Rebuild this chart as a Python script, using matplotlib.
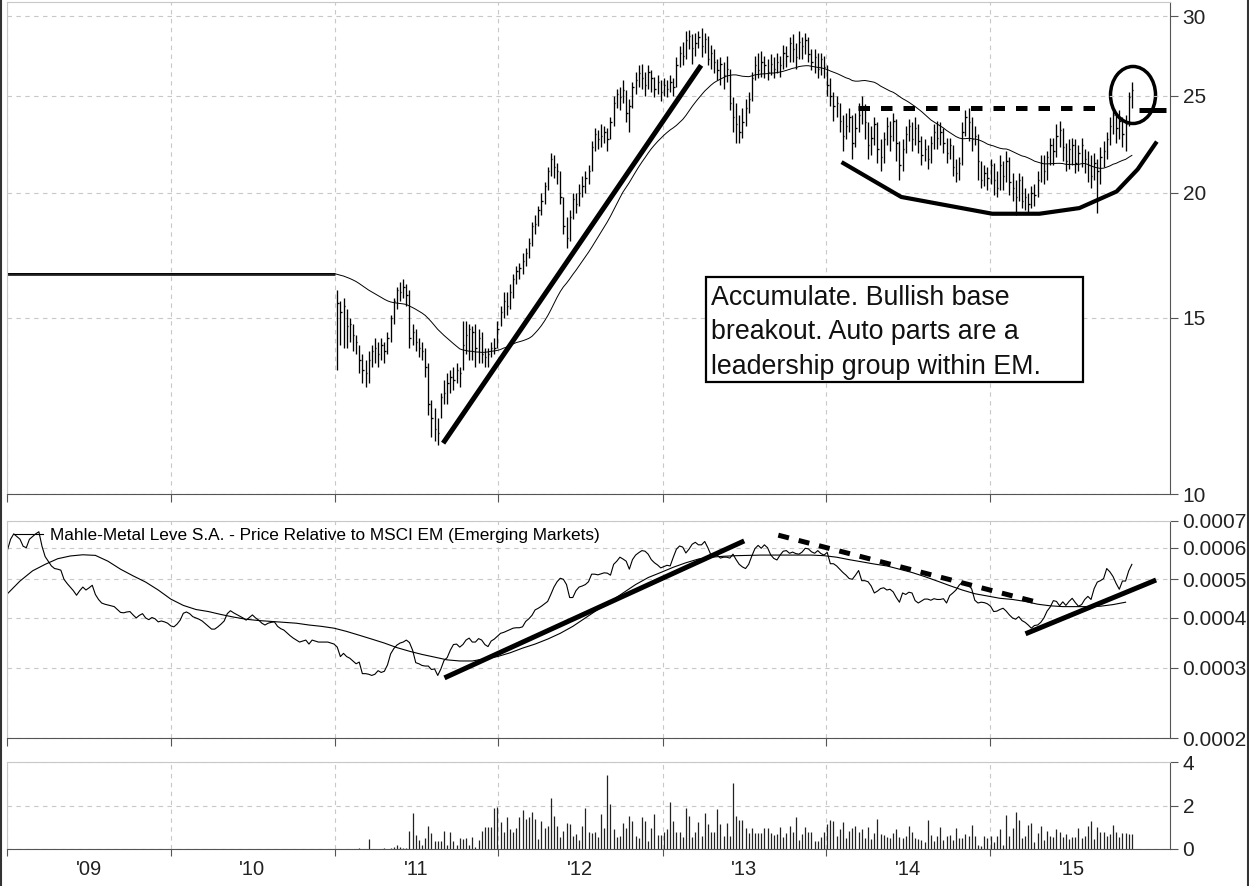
import numpy as np
import pandas as pd
import matplotlib
matplotlib.use('Agg')
import matplotlib.pyplot as plt
import matplotlib.dates as mdates
from matplotlib.patches import Ellipse, Rectangle
from matplotlib.lines import Line2D
from matplotlib.ticker import NullLocator, FixedLocator, NullFormatter

plt.rcParams['font.family'] = ['Liberation Sans', 'DejaVu Sans']

### DATA ---
# weekly grid starting first Friday of 2009
n_weeks = 359
listing_week = 105          # first weekly bar of the stock
pre_listing_price = 16.6    # flat placeholder before listing
ma_weeks = 40

price_high = [
    16.0, 15.6, 15.7, 15.3, 15.0, 14.8, 14.4, 14.1, 13.8, 13.6,
    13.9, 14.1, 14.3, 14.2, 14.3, 14.2, 14.5, 15.1, 15.7, 16.1,
    16.3, 16.4, 16.2, 16.0, 14.8, 14.6, 14.3, 14.2, 14.0, 13.5,
    12.4, 12.2, 11.9, 12.6, 13.0, 13.2, 13.3, 13.4, 13.5, 13.4,
    14.9, 14.9, 14.8, 14.7, 14.8, 14.6, 14.5, 14.0, 14.0, 14.2,
    14.3, 14.9, 15.4, 15.9, 15.9, 16.2, 16.6, 16.9, 17.0, 17.4,
    17.6, 18.0, 18.7, 19.0, 19.4, 20.0, 20.5, 21.2, 21.9, 21.8,
    21.4, 21.0, 19.8, 18.9, 19.2, 20.0, 20.0, 20.4, 20.8, 21.0,
    21.3, 22.5, 23.2, 23.1, 23.4, 23.3, 23.2, 23.8, 25.0, 25.4,
    25.5, 25.9, 25.3, 24.8, 25.8, 26.4, 26.8, 26.9, 26.4, 26.8,
    26.5, 26.1, 26.2, 25.9, 26.0, 25.9, 26.2, 26.0, 27.3, 28.0,
    28.3, 29.0, 29.1, 28.8, 28.9, 29.0, 29.2, 28.9, 28.7, 28.1,
    27.8, 27.2, 27.3, 27.0, 27.4, 26.6, 24.9, 24.6, 23.9, 24.3,
    24.8, 25.2, 26.4, 27.4, 27.6, 27.7, 27.4, 27.2, 27.5, 27.3,
    27.6, 27.4, 28.1, 28.0, 28.6, 28.8, 28.2, 29.0, 28.6, 28.9,
    28.6, 27.8, 27.8, 27.6, 27.6, 27.4, 26.8, 26.0, 25.2, 25.0,
    24.6, 23.9, 24.0, 24.3, 23.9, 24.0, 24.6, 25.0, 24.5, 23.5,
    23.3, 23.8, 23.5, 22.6, 23.0, 23.8, 23.6, 24.0, 23.7, 22.5,
    22.6, 23.3, 23.7, 23.5, 23.8, 23.4, 22.8, 22.6, 22.3, 22.8,
    23.4, 23.6, 23.5, 23.2, 22.7, 22.7, 22.3, 21.6, 21.7, 23.5,
    24.2, 24.3, 23.8, 23.3, 22.9, 21.5, 21.3, 21.2, 21.6, 21.4,
    21.0, 21.8, 21.5, 22.0, 21.7, 20.9, 20.6, 20.9, 20.8, 20.2,
    20.0, 20.3, 20.4, 21.0, 21.8, 21.8, 22.0, 22.7, 22.7, 23.4,
    23.6, 23.2, 22.4, 22.6, 22.7, 22.6, 22.3, 22.7, 22.1, 22.0,
    21.8, 21.9, 21.6, 22.2, 22.5, 23.0, 23.8, 24.3, 24.0, 24.2,
    23.8, 23.9, 25.2, 25.8]

price_low = [
    13.3, 14.1, 14.0, 14.0, 14.2, 13.9, 13.8, 13.2, 12.9, 12.8,
    12.9, 13.4, 13.5, 13.4, 13.6, 13.5, 13.8, 14.2, 14.8, 15.3,
    15.6, 15.7, 15.4, 14.0, 14.1, 13.9, 13.7, 13.6, 13.1, 12.0,
    11.4, 11.3, 11.2, 11.9, 12.3, 12.3, 12.6, 12.7, 12.9, 12.8,
    13.3, 13.8, 13.6, 13.6, 13.4, 13.5, 13.5, 13.4, 13.4, 13.7,
    13.8, 14.0, 14.7, 15.0, 15.1, 15.3, 15.7, 16.2, 16.4, 16.6,
    16.9, 17.2, 17.7, 18.2, 18.5, 19.0, 19.5, 20.1, 20.8, 20.7,
    20.4, 19.5, 18.2, 17.6, 17.9, 18.8, 19.1, 19.4, 19.8, 20.0,
    20.4, 21.0, 22.0, 22.1, 22.2, 22.4, 22.0, 22.6, 23.3, 24.3,
    24.2, 24.6, 23.5, 23.0, 24.3, 25.1, 25.5, 25.4, 25.0, 25.4,
    25.2, 24.9, 25.1, 24.7, 25.0, 24.9, 25.2, 25.0, 25.5, 26.7,
    26.8, 27.2, 27.8, 26.9, 27.4, 27.9, 27.3, 27.6, 26.8, 26.6,
    26.3, 25.9, 25.6, 25.4, 25.8, 24.2, 23.0, 22.4, 22.4, 22.7,
    23.3, 24.0, 24.7, 25.9, 26.0, 26.1, 26.0, 25.9, 26.2, 26.0,
    26.3, 26.1, 26.6, 26.7, 27.0, 27.0, 26.6, 27.2, 27.2, 27.5,
    27.0, 26.5, 26.3, 26.0, 26.2, 26.0, 25.0, 24.4, 23.6, 23.8,
    23.0, 22.0, 22.6, 23.0, 21.6, 22.2, 23.0, 23.4, 22.6, 21.6,
    21.8, 22.3, 21.4, 21.0, 21.4, 22.3, 22.0, 22.5, 21.5, 20.6,
    21.0, 21.9, 22.5, 22.0, 22.3, 21.9, 21.3, 21.5, 21.1, 21.4,
    22.1, 22.1, 22.3, 21.9, 21.4, 21.6, 20.8, 20.5, 20.6, 21.3,
    22.8, 22.5, 22.0, 22.3, 20.6, 20.2, 20.3, 20.1, 20.4, 19.9,
    19.8, 20.1, 20.1, 20.5, 19.9, 19.6, 19.0, 19.6, 19.3, 19.2,
    19.1, 19.3, 19.4, 19.8, 20.5, 20.4, 20.6, 21.3, 21.3, 21.7,
    22.2, 21.5, 21.0, 21.1, 21.3, 20.9, 21.0, 21.2, 20.9, 20.5,
    20.2, 20.6, 19.1, 20.4, 21.2, 21.6, 22.3, 22.9, 22.4, 22.6,
    22.2, 22.0, 23.3, 24.3]

price_close = [
    15.5, 15.2, 15.4, 14.7, 14.8, 14.4, 14.2, 13.6, 13.3, 13.2,
    13.6, 13.9, 14.0, 13.8, 14.1, 13.9, 14.3, 15.0, 15.6, 16.0,
    15.9, 16.1, 15.8, 14.3, 14.5, 14.2, 14.0, 13.9, 13.4, 12.3,
    11.9, 11.6, 11.5, 12.5, 12.6, 12.9, 13.1, 13.0, 13.3, 13.2,
    14.1, 14.4, 14.6, 14.5, 14.0, 14.3, 13.8, 13.7, 13.8, 14.0,
    14.0, 14.6, 15.2, 15.6, 15.4, 15.9, 16.4, 16.7, 16.8, 17.1,
    17.4, 17.8, 18.5, 18.6, 19.2, 19.6, 20.3, 21.0, 21.6, 21.2,
    21.0, 19.8, 18.5, 18.0, 18.9, 19.7, 19.5, 20.0, 20.3, 20.7,
    21.0, 22.2, 22.9, 22.6, 22.8, 23.0, 22.6, 23.5, 24.6, 25.1,
    24.9, 25.3, 24.0, 24.4, 25.5, 25.9, 26.3, 26.0, 25.6, 26.4,
    26.0, 25.4, 25.8, 25.2, 25.6, 25.4, 25.8, 25.5, 26.8, 27.6,
    27.4, 28.4, 28.7, 27.9, 28.2, 28.6, 28.0, 28.5, 27.2, 27.6,
    27.0, 26.5, 26.9, 26.2, 26.6, 24.6, 23.8, 23.4, 23.0, 23.5,
    24.3, 24.8, 26.0, 26.8, 26.5, 27.0, 26.8, 26.4, 26.9, 26.6,
    27.0, 26.8, 27.6, 27.4, 28.2, 27.8, 27.3, 28.3, 28.0, 28.4,
    27.5, 27.0, 27.3, 26.6, 27.2, 26.7, 25.6, 25.0, 24.4, 24.6,
    23.6, 22.8, 23.3, 23.8, 22.4, 23.2, 23.9, 24.4, 23.5, 22.3,
    22.7, 23.4, 22.1, 21.7, 22.6, 23.3, 22.8, 23.6, 22.4, 21.3,
    22.1, 22.9, 23.3, 22.6, 23.2, 22.5, 21.8, 22.1, 21.6, 22.4,
    23.0, 22.7, 23.0, 22.4, 21.9, 22.3, 21.2, 20.9, 21.4, 23.0,
    23.8, 23.5, 22.6, 22.8, 21.5, 20.6, 20.9, 20.7, 21.3, 20.6,
    20.2, 21.3, 20.8, 21.5, 20.5, 20.2, 19.8, 20.6, 19.6, 19.8,
    19.5, 20.0, 19.9, 20.6, 21.4, 21.0, 21.7, 22.3, 22.0, 22.8,
    23.1, 22.2, 21.5, 22.1, 22.3, 21.4, 21.9, 22.3, 21.6, 21.3,
    20.8, 21.4, 21.0, 21.7, 22.0, 22.6, 23.3, 23.9, 23.2, 23.6,
    22.9, 23.4, 24.9, 25.3]

# weekly volume (millions), from listing week
volume = [
    0, 0, 0, 0, 0, 0, 0, 0.03, 0, 0,
    0.45, 0, 0, 0, 0, 0.05, 0.02, 0.05, 0.1, 0.2,
    0.1, 0.05, 0.05, 0.85, 1.65, 0.65, 0.4, 0.2, 0.5, 1.05,
    0.75, 0.35, 0.35, 0.35, 0.85, 0.2, 0.8, 0.35, 0.2, 0.5,
    0.45, 0.5, 0.2, 0.55, 0.1, 0.4, 0.85, 1.0, 1.0, 1.0,
    1.9, 1.95, 1.25, 0.8, 1.45, 0.9, 0.8, 0.95, 1.45, 1.8,
    1.4, 1.45, 1.7, 1.4, 0.45, 1.3, 0.95, 1.05, 2.35, 1.5,
    1.05, 0.55, 0.85, 1.2, 1.15, 0.6, 0.7, 0.4, 1.05, 1.9,
    0.8, 0.75, 0.8, 0.55, 1.6, 0.95, 3.4, 2.05, 0.9, 0.55,
    0.6, 1.2, 0.95, 1.5, 1.3, 0.6, 0.5, 1.45, 1.3, 0.35,
    0.95, 1.6, 0.65, 0.65, 0.8, 0.9, 2.15, 1.3, 0.8, 0.8,
    0.55, 1.9, 1.5, 0.55, 0.8, 1.25, 0.6, 1.65, 1.15, 0.8,
    0.8, 1.85, 1.15, 0.6, 1.2, 0.6, 3.05, 1.5, 1.35, 1.35,
    0.95, 0.75, 0.95, 0.75, 0.75, 0.75, 0.95, 0.95, 0.75, 0.65,
    0.7, 1.0, 0.55, 0.75, 1.05, 0.8, 1.45, 0.4, 0.7, 1.0,
    0.8, 0.8, 0.35, 0.35, 0.55, 0.8, 1.15, 1.35, 1.3, 0.6,
    0.9, 1.25, 0.5, 0.85, 0.95, 1.05, 0.8, 0.9, 0.5, 1.0,
    0.45, 0.75, 1.4, 0.7, 0.65, 0.55, 0.5, 0.75, 0.9, 0.55,
    0.5, 0.6, 1.05, 0.8, 0.5, 0.45, 0.4, 0.3, 1.35, 0.65,
    0.35, 0.6, 1.0, 0.4, 0.6, 0.65, 0.4, 0.95, 0.5, 0.5,
    0.7, 0.6, 1.1, 0.6, 0.2, 0.15, 0.6, 0.5, 0.6, 0.3,
    0.6, 0.9, 0.2, 1.55, 0.6, 0.95, 1.7, 1.35, 0.5, 0.6,
    1.1, 1.2, 0.3, 0.75, 1.05, 0.4, 0.85, 0.6, 0.55, 0.9,
    0.8, 0.55, 0.7, 0.45, 0.55, 0.55, 0.95, 0.5, 0.6, 1.05,
    1.3, 0.45, 1.0, 0.8, 0.8, 0.6, 0.7, 1.1, 0.8, 0.55,
    0.75, 0.75, 0.7, 0.7]

# price relative to MSCI EM, in units of 1e-4, weekly from 2009
rel_e4 = [
    5.92, 6.3, 6.5, 6.4, 6.3, 6.05, 6.0, 6.3, 6.4, 6.5,
    6.58, 6.05, 5.7, 5.55, 5.4, 5.32, 5.3, 5.27, 5.0, 4.88,
    4.78, 4.68, 4.56, 4.68, 4.78, 4.70, 4.76, 4.83, 4.58, 4.45,
    4.36, 4.33, 4.31, 4.29, 4.27, 4.2, 4.13, 4.12, 4.14, 4.15,
    4.07, 4.00, 4.06, 4.10, 4.0, 3.96, 4.01, 3.98, 3.91, 3.93,
    3.91, 3.88, 3.82, 3.80, 3.86, 3.95, 4.11, 4.14, 4.10, 4.03,
    4.0, 3.97, 3.93, 3.87, 3.81, 3.75, 3.75, 3.80, 3.86, 3.93,
    4.1, 4.17, 4.12, 4.08, 4.04, 4.0, 3.95, 4.01, 4.07, 4.0,
    3.95, 3.88, 3.84, 3.88, 3.90, 3.91, 3.81, 3.76, 3.73, 3.67,
    3.61, 3.56, 3.52, 3.48, 3.50, 3.52, 3.44, 3.52, 3.50, 3.48,
    3.48, 3.48, 3.48, 3.46, 3.44, 3.38, 3.20, 3.26, 3.20, 3.17,
    3.12, 3.07, 3.10, 2.90, 2.90, 2.89, 2.87, 2.89, 2.95, 2.92,
    2.94, 3.05, 3.25, 3.35, 3.42, 3.46, 3.48, 3.52, 3.47, 3.32,
    3.09, 3.07, 3.04, 3.03, 3.03, 2.97, 2.98, 2.87, 2.98, 3.13,
    3.18, 3.32, 3.43, 3.44, 3.38, 3.43, 3.52, 3.56, 3.48, 3.48,
    3.55, 3.52, 3.43, 3.39, 3.50, 3.54, 3.60, 3.66, 3.68, 3.71,
    3.74, 3.77, 3.78, 3.78, 3.80, 3.92, 3.98, 4.06, 4.19, 4.23,
    4.28, 4.34, 4.40, 4.58, 4.78, 4.93, 5.03, 5.0, 4.85, 4.50,
    4.50, 4.68, 4.78, 4.81, 4.85, 4.93, 5.15, 5.15, 5.13, 5.16,
    5.19, 5.18, 5.12, 5.45, 5.55, 5.68, 5.62, 5.55, 5.30, 5.6,
    5.75, 5.83, 5.90, 5.88, 5.78, 5.60, 5.50, 5.43, 5.34, 5.38,
    5.42, 5.40, 5.68, 5.95, 6.06, 6.02, 5.82, 5.95, 6.12, 6.19,
    6.10, 6.10, 6.22, 6.0, 5.75, 5.78, 5.75, 5.65, 5.68, 5.68,
    5.65, 5.78, 5.60, 5.45, 5.37, 5.32, 5.45, 5.72, 5.97, 6.08,
    5.98, 6.10, 6.0, 5.76, 5.64, 5.59, 5.75, 5.88, 5.90, 5.81,
    5.85, 5.80, 5.78, 5.85, 5.98, 5.96, 5.86, 5.81, 5.90, 5.80,
    5.75, 5.84, 5.47, 5.47, 5.40, 5.30, 5.20, 5.12, 5.02, 5.0,
    5.12, 5.26, 4.96, 4.96, 4.93, 4.81, 4.62, 4.67, 4.74, 4.76,
    4.70, 4.72, 4.65, 4.50, 4.38, 4.62, 4.58, 4.64, 4.62, 4.42,
    4.36, 4.41, 4.46, 4.46, 4.43, 4.47, 4.45, 4.45, 4.47, 4.36,
    4.55, 4.62, 4.70, 4.83, 4.92, 4.86, 4.83, 4.73, 4.43, 4.36,
    4.38, 4.37, 4.34, 4.28, 4.15, 4.16, 4.20, 4.23, 4.16, 4.07,
    4.0, 3.97, 4.03, 3.94, 3.90, 3.84, 3.77, 3.83, 3.84, 3.90,
    4.0, 4.16, 4.26, 4.42, 4.40, 4.29, 4.39, 4.30, 4.40, 4.48,
    4.37, 4.28, 4.32, 4.45, 4.53, 4.45, 4.74, 4.92, 4.96, 5.02,
    5.32, 5.22, 5.08, 4.88, 4.72, 4.95, 4.95, 5.25, 5.45]

# moving average of the relative line, every 4th week (1e-4)
rel_ma_e4 = [
    4.60, 4.95, 5.25, 5.45, 5.63, 5.72, 5.76, 5.74, 5.55, 5.30,
    5.10, 4.92, 4.70, 4.46, 4.30, 4.20, 4.15, 4.08, 4.02, 3.97,
    3.94, 3.92, 3.90, 3.88, 3.84, 3.81, 3.77, 3.70, 3.62, 3.54,
    3.46, 3.37, 3.30, 3.24, 3.19, 3.14, 3.12, 3.12, 3.16, 3.20,
    3.27, 3.36, 3.44, 3.54, 3.66, 3.81, 4.00, 4.20, 4.40, 4.62,
    4.85, 5.05, 5.20, 5.36, 5.50, 5.62, 5.68, 5.71, 5.73, 5.74,
    5.75, 5.75, 5.75, 5.75, 5.75, 5.73, 5.68, 5.60, 5.53, 5.46,
    5.40, 5.30, 5.20, 5.08, 4.95, 4.82, 4.70, 4.60, 4.54, 4.48,
    4.45, 4.40, 4.33, 4.29, 4.27, 4.27, 4.27, 4.28, 4.32, 4.38]

rel_label = 'Mahle-Metal Leve S.A. - Price Relative to MSCI EM (Emerging Markets)'
note_text = 'Accumulate. Bullish base\nbreakout. Auto parts are a\nleadership group within EM.'
years = [2009, 2010, 2011, 2012, 2013, 2014, 2015]


### FUNCTIONS ---
def d(s):
    return mdates.date2num(pd.Timestamp(s).to_pydatetime())


def style_axis(ax):
    for side in ['top', 'left']:
        ax.spines[side].set_color('#c8c8c8')
    for side in ['right', 'bottom']:
        ax.spines[side].set_color('#555555')
    ax.yaxis.tick_right()
    ax.tick_params(axis='y', direction='out', length=6, color='#555555',
                   labelsize=15, pad=3, labelcolor='#222222')
    ax.tick_params(axis='x', which='major', direction='out', length=6,
                   color='#555555', labelbottom=False)
    ax.yaxis.set_minor_locator(NullLocator())
    ax.xaxis.set_major_locator(FixedLocator([d('%d-01-01' % y) for y in years]))
    ax.xaxis.set_major_formatter(NullFormatter())
    ax.grid(True, color='#c8c8c8', linestyle=(0, (4, 4)), lw=0.8)
    ax.set_xlim(d('2009-01-01'), d('2016-02-06'))


### PLOT ---
dates = pd.date_range('2009-01-02', periods=n_weeks, freq='7D')
x = mdates.date2num(dates.to_pydatetime())
px = x[listing_week:listing_week + len(price_close)]

fig = plt.figure(figsize=(12.49, 8.86), dpi=100)
W, H = 1249, 886
ax1 = fig.add_axes([7/W, (H-494)/H, 1163/W, 492/H])
ax2 = fig.add_axes([7/W, (H-738)/H, 1163/W, 217/H])
ax3 = fig.add_axes([7/W, (H-849)/H, 1163/W, 87/H])

## Price panel
ax1.set_yscale('log')
ax1.hlines(pre_listing_price, x[0], x[listing_week - 1] + 3, color='#222222', lw=2)
ax1.vlines(px, price_low, price_high, color='k', lw=0.95)
ax1.hlines(price_close, px, px + 3, color='k', lw=0.95)

full_close = pd.Series([pre_listing_price] * listing_week + price_close)
price_ma = full_close.rolling(ma_weeks, min_periods=1).mean()
ax1.plot(x[:len(price_ma)], price_ma, color='k', lw=0.7)

# annotations
ax1.plot([d('2011-08-31'), d('2013-03-28')], [11.24, 26.8], color='k', lw=3.6,
         solid_capstyle='butt')
ax1.plot([d('2014-03-13'), d('2015-09-15')], [24.3, 24.3], color='k', lw=3.6,
         linestyle=(0, (2.3, 2.2)))
ax1.plot([d('2015-11-30'), d('2016-01-29')], [24.2, 24.2], color='k', lw=3.6,
         solid_capstyle='butt')
cup_dates = ['2014-02-08', '2014-06-17', '2015-01-06', '2015-04-21',
             '2015-07-19', '2015-10-10', '2015-11-26', '2016-01-05']
cup_vals = [21.4, 19.8, 19.05, 19.05, 19.3, 20.05, 21.1, 22.4]
ax1.plot([d(s) for s in cup_dates], cup_vals, color='k', lw=3,
         solid_joinstyle='round')
ax1.add_patch(Ellipse((0.9682, 0.811), 0.0387, 0.1159, transform=ax1.transAxes,
                      fill=False, ec='k', lw=2.5))
ax1.add_patch(Rectangle((0.6010, 0.2276), 0.3242, 0.2135, transform=ax1.transAxes,
                        fc='white', ec='k', lw=1.6, zorder=5))
ax1.text(0.6056, 0.425, note_text, transform=ax1.transAxes, fontsize=19.3,
         va='top', ha='left', linespacing=1.42, color='#111111', zorder=6)

style_axis(ax1)
ax1.set_ylim(10, 31.0)
ax1.set_yticks([10, 15, 20, 25, 30])
ax1.set_yticklabels(['10', '15', '20', '25', '30'])

## Relative panel
rel = np.array(rel_e4) * 1e-4
rel_ma = np.array(rel_ma_e4) * 1e-4
ax2.set_yscale('log')
line_rel, = ax2.plot(x[:len(rel)], rel, color='k', lw=0.8)
ax2.plot(x[::4][:len(rel_ma)], rel_ma, color='k', lw=0.8)

ax2.plot([d('2011-09-03'), d('2013-07-02')], [2.83e-4, 6.24e-4], color='k', lw=3.6,
         solid_capstyle='butt')
ax2.plot([d('2013-09-16'), d('2015-04-12')], [6.45e-4, 4.39e-4], color='k', lw=3.6,
         linestyle=(0, (2.2, 2.0)))
ax2.plot([d('2015-03-21'), d('2016-01-06')], [3.65e-4, 4.98e-4], color='k', lw=3.6,
         solid_capstyle='butt')

style_axis(ax2)
ax2.set_ylim(0.0002, 0.0007)
ax2.set_yticks([0.0002, 0.0003, 0.0004, 0.0005, 0.0006, 0.0007])
ax2.set_yticklabels(['0.0002', '0.0003', '0.0004', '0.0005', '0.0006', '0.0007'])
ax2.legend([line_rel], [rel_label], loc='upper left', frameon=False, fontsize=12.4,
           handlelength=1.7, handletextpad=0.4, borderaxespad=0.2, borderpad=0.2)

## Volume panel
ax3.vlines(px, 0, volume, color='#222222', lw=0.9)
style_axis(ax3)
ax3.set_ylim(0, 4)
ax3.set_yticks([0, 2, 4])
ax3.set_yticklabels(['0', '2', '4'])
ax3.tick_params(axis='x', which='major', length=5)
ax3.xaxis.set_minor_locator(FixedLocator([d('%d-07-02' % y) for y in years]))
ax3.xaxis.set_minor_formatter(mdates.DateFormatter("'%y"))
ax3.tick_params(axis='x', which='minor', length=0, labelsize=14.5, pad=8,
                labelcolor='#222222')

# outer frame
fig.add_artist(Line2D([0.0008, 0.0008], [0, 1], transform=fig.transFigure,
                      color='#333333', lw=1.5))
fig.add_artist(Line2D([0.9992, 0.9992], [0, 1], transform=fig.transFigure,
                      color='#333333', lw=1.5))

fig.savefig('out.png', dpi=100)
